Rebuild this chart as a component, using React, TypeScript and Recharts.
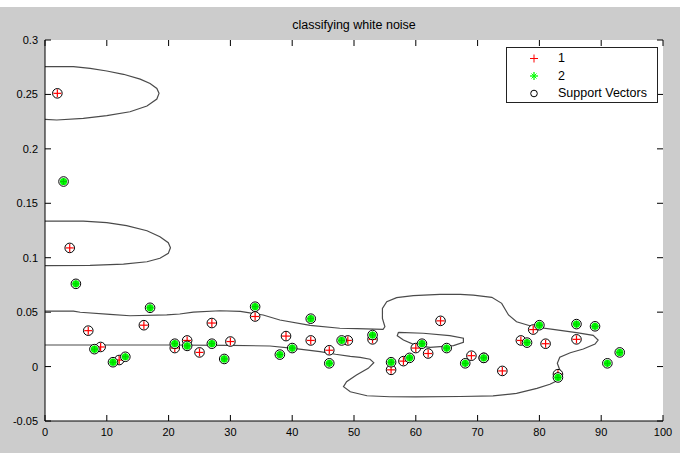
import React from "react";
import {
  ComposedChart,
  XAxis,
  YAxis,
  Line,
  Scatter,
  ReferenceLine,
} from "recharts";

// Class 1 samples (red +)
const redX = [2, 4, 7, 9, 12, 16, 21, 23, 25, 27, 30, 34, 39, 43, 46, 49, 53, 56, 58, 60, 62, 64, 69, 71, 74, 77, 79, 81, 83, 86];
const redY = [0.251, 0.109, 0.033, 0.018, 0.006, 0.038, 0.017, 0.024, 0.013, 0.04, 0.023, 0.046, 0.028, 0.024, 0.015, 0.024, 0.025, -0.003, 0.005, 0.017, 0.012, 0.042, 0.01, 0.008, -0.004, 0.024, 0.034, 0.021, -0.007, 0.025];

// Class 2 samples (green *)
const greenX = [3, 5, 8, 11, 13, 17, 21, 23, 27, 29, 34, 38, 40, 43, 46, 48, 53, 56, 59, 61, 65, 68, 71, 78, 80, 83, 86, 89, 91, 93];
const greenY = [0.17, 0.076, 0.016, 0.004, 0.009, 0.054, 0.021, 0.019, 0.021, 0.007, 0.055, 0.011, 0.017, 0.044, 0.003, 0.024, 0.029, 0.004, 0.008, 0.021, 0.017, 0.003, 0.008, 0.022, 0.038, -0.01, 0.039, 0.037, 0.003, 0.013];

// Decision boundary contours
const topLoopX = [0, 1.9, 4.6, 7.3, 10, 12.7, 15.4, 17, 18.1, 18.45, 18.1, 16.5, 13.75, 10, 6.2, 1.9, 0];
const topLoopY = [0.2755, 0.2755, 0.2755, 0.274, 0.2715, 0.2685, 0.2641, 0.2601, 0.2555, 0.251, 0.2458, 0.2394, 0.2341, 0.2305, 0.228, 0.2265, 0.227];

const midLoopX = [0, 6.2, 10, 13.2, 16.5, 18.6, 19.95, 20.3, 19.95, 18.6, 16.5, 12.7, 7.3, 0];
const midLoopY = [0.1337, 0.1337, 0.1322, 0.1294, 0.1248, 0.1193, 0.1138, 0.1092, 0.104, 0.0995, 0.0963, 0.0942, 0.093, 0.0927];

const mainX = [
  0, 4.6, 5.7, 10.5, 13.75, 19.7, 21.8, 24, 28.3, 31.6, 35.3, 38, 42.9, 47.7, 50.5, 54.7, 55, 54.6, 54.6, 55.3, 56.9, 59.6, 63.9, 67.2, 69.3, 72.3, 73.9, 75, 76.3, 79, 82.2, 86, 88.7, 89.5, 89, 87.1, 85, 83.3, 82.9, 83.3, 83.6, 83.1, 81.7, 79.6, 76.3, 72.5, 67.2, 60, 55.8, 52.1, 49.4, 48.3, 48.8, 50.4, 52.3, 53.2, 52.6, 51, 49.4, 47, 44.5, 40.2, 36.4, 30, 20, 10, 0,
];
const mainY = [
  0.051, 0.051, 0.0499, 0.048, 0.0467, 0.0474, 0.0483, 0.05, 0.0513, 0.0507, 0.0474, 0.0428, 0.0379, 0.0352, 0.0348, 0.0342, 0.0366, 0.0443, 0.0535, 0.0596, 0.0633, 0.0651, 0.0664, 0.0664, 0.0657, 0.0636, 0.0581, 0.0474, 0.0412, 0.0366, 0.0342, 0.0311, 0.0287, 0.0244, 0.0207, 0.0161, 0.0127, 0.0085, 0.003, -0.0032, -0.0077, -0.0123, -0.0163, -0.02, -0.0246, -0.027, -0.0275, -0.0278, -0.0277, -0.0268, -0.0231, -0.0185, -0.0139, -0.0077, -0.0016, 0.0036, 0.0067, 0.0084, 0.0094, 0.0113, 0.0137, 0.0168, 0.0189, 0.0195, 0.0198, 0.0198, 0.0198,
];

const innerLoopX = [57.2, 61.2, 65.5, 67.7, 67.7, 66.1, 62.3, 60.1, 58, 57, 57.2];
const innerLoopY = [0.0315, 0.0306, 0.0284, 0.026, 0.0223, 0.0192, 0.0177, 0.0192, 0.0244, 0.0284, 0.0315];

const xTicks = [0, 10, 20, 30, 40, 50, 60, 70, 80, 90, 100];
const yTicks = [-0.05, 0, 0.05, 0.1, 0.15, 0.2, 0.25, 0.3];

const X_DOMAIN: [number, number] = [0, 100];
const Y_DOMAIN: [number, number] = [-0.05, 0.3];

const zip = (xs: number[], ys: number[]) => xs.map((x, i) => ({ x, y: ys[i] }));

const redPts = zip(redX, redY);
const greenPts = zip(greenX, greenY);
const contours = [
  zip(topLoopX, topLoopY),
  zip(midLoopX, midLoopY),
  zip(mainX, mainY),
  zip(innerLoopX, innerLoopY),
];

const FONT = "'Liberation Sans', Arial, sans-serif";
const CONTOUR = "#4a4a4a";

// plot box is 618 x 381 px; inward tick length of 6px in data units
const TICK_DX = ((X_DOMAIN[1] - X_DOMAIN[0]) * 6) / 618;
const TICK_DY = ((Y_DOMAIN[1] - Y_DOMAIN[0]) * 6) / 381;

function BottomLabel(p: any) {
  return (
    <text x={p.x} y={p.y + 15} textAnchor="middle" fontSize={11} fontFamily={FONT} fill="#000">
      {p.payload.value}
    </text>
  );
}

function LeftLabel(p: any) {
  return (
    <text x={p.x - 7} y={p.y + 4} textAnchor="end" fontSize={11} fontFamily={FONT} fill="#000">
      {p.payload.value}
    </text>
  );
}

function PlusMark(props: any) {
  const { cx, cy } = props;
  return (
    <g>
      <circle cx={cx} cy={cy} r={4.8} fill="#fff" stroke="#000" strokeWidth={1} />
      <line x1={cx - 4} x2={cx + 4} y1={cy} y2={cy} stroke="#ff0000" strokeWidth={1.2} />
      <line x1={cx} x2={cx} y1={cy - 4} y2={cy + 4} stroke="#ff0000" strokeWidth={1.2} />
    </g>
  );
}

function StarMark(props: any) {
  const { cx, cy } = props;
  return (
    <g>
      <circle cx={cx} cy={cy} r={4.8} fill="#fff" stroke="#000" strokeWidth={1} />
      <circle cx={cx} cy={cy} r={3.6} fill="#00ff00" />
      <line x1={cx - 3.5} x2={cx + 3.5} y1={cy} y2={cy} stroke="#00cc00" strokeWidth={1} />
      <line x1={cx} x2={cx} y1={cy - 3.5} y2={cy + 3.5} stroke="#00cc00" strokeWidth={1} />
    </g>
  );
}

function LegendBox() {
  const row = { position: "absolute" as const, left: 51, fontSize: 12.5, fontFamily: FONT, color: "#000" };
  return (
    <div
      style={{
        position: "absolute",
        left: 506,
        top: 47,
        width: 150,
        height: 54,
        background: "#fff",
        border: "1px solid #222",
      }}
    >
      <svg width={40} height={54} style={{ position: "absolute", left: 0, top: 0 }}>
        <line x1={23} x2={31} y1={10.5} y2={10.5} stroke="#ff0000" />
        <line x1={27} x2={27} y1={6.5} y2={14.5} stroke="#ff0000" />
        <line x1={23} x2={31} y1={28} y2={28} stroke="#00ff00" strokeWidth={1.3} />
        <line x1={27} x2={27} y1={24} y2={32} stroke="#00ff00" strokeWidth={1.3} />
        <line x1={24.5} x2={29.5} y1={25.5} y2={30.5} stroke="#00ff00" />
        <line x1={24.5} x2={29.5} y1={30.5} y2={25.5} stroke="#00ff00" />
        <circle cx={27} cy={45.5} r={3.3} fill="none" stroke="#000" />
      </svg>
      <div style={{ ...row, top: 3 }}>1</div>
      <div style={{ ...row, top: 20.5 }}>2</div>
      <div style={{ ...row, top: 38 }}>Support Vectors</div>
    </div>
  );
}

export default function App() {
  const [y0, y1] = Y_DOMAIN;
  const [x0, x1] = X_DOMAIN;
  return (
    <div style={{ position: "absolute", left: 0, top: 0, width: 691, height: 453, background: "#fff" }}>
      <div style={{ position: "absolute", left: 0, top: 7, width: 680, height: 446, background: "#cccccc" }} />
      {/* white axes area sits under the svg */}
      <div style={{ position: "absolute", left: 45, top: 40, width: 618, height: 381, background: "#fff" }} />
      <div
        style={{
          position: "absolute",
          left: 0,
          top: 18,
          width: 708,
          textAlign: "center",
          fontFamily: FONT,
          fontSize: 12.5,
          color: "#000",
        }}
      >
        classifying white noise
      </div>
      <div style={{ position: "absolute", left: 0, top: 0 }}>
        <ComposedChart
          width={691}
          height={453}
          margin={{ top: 40, right: 28, bottom: 0, left: 0 }}
        >
          <XAxis
            dataKey="x"
            type="number"
            domain={X_DOMAIN}
            ticks={xTicks}
            height={32}
            tickSize={0}
            tickMargin={0}
            axisLine={{ stroke: "#000" }}
            tickLine={false}
            tick={BottomLabel}
            allowDataOverflow
          />
          <XAxis
            xAxisId="top"
            orientation="top"
            type="number"
            domain={X_DOMAIN}
            height={0}
            axisLine={{ stroke: "#000" }}
            tickLine={false}
            tick={false}
            allowDataOverflow
          />
          <YAxis
            dataKey="y"
            type="number"
            domain={Y_DOMAIN}
            ticks={yTicks}
            width={45}
            tickSize={0}
            tickMargin={0}
            axisLine={{ stroke: "#000" }}
            tickLine={false}
            tick={LeftLabel}
            allowDataOverflow
          />
          <YAxis
            yAxisId="right"
            orientation="right"
            type="number"
            domain={Y_DOMAIN}
            width={0}
            axisLine={{ stroke: "#000" }}
            tickLine={false}
            tick={false}
            allowDataOverflow
          />
          {/* inward tick marks on all four sides of the box */}
          {xTicks.map((t) => (
            <ReferenceLine
              key={`xb${t}`}
              segment={[{ x: t, y: y0 }, { x: t, y: y0 + TICK_DY }]}
              stroke="#000"
              ifOverflow="visible"
            />
          ))}
          {xTicks.map((t) => (
            <ReferenceLine
              key={`xt${t}`}
              segment={[{ x: t, y: y1 }, { x: t, y: y1 - TICK_DY }]}
              stroke="#000"
              ifOverflow="visible"
            />
          ))}
          {yTicks.map((t) => (
            <ReferenceLine
              key={`yl${t}`}
              segment={[{ x: x0, y: t }, { x: x0 + TICK_DX, y: t }]}
              stroke="#000"
              ifOverflow="visible"
            />
          ))}
          {yTicks.map((t) => (
            <ReferenceLine
              key={`yr${t}`}
              segment={[{ x: x1, y: t }, { x: x1 - TICK_DX, y: t }]}
              stroke="#000"
              ifOverflow="visible"
            />
          ))}
          {contours.map((pts, i) => (
            <Line
              key={i}
              data={pts}
              dataKey="y"
              type="linear"
              stroke={CONTOUR}
              strokeWidth={1.2}
              dot={false}
              activeDot={false}
              isAnimationActive={false}
            />
          ))}
          <Scatter data={redPts} dataKey="y" shape={PlusMark} isAnimationActive={false} />
          <Scatter data={greenPts} dataKey="y" shape={StarMark} isAnimationActive={false} />
        </ComposedChart>
      </div>
      <LegendBox />
    </div>
  );
}
